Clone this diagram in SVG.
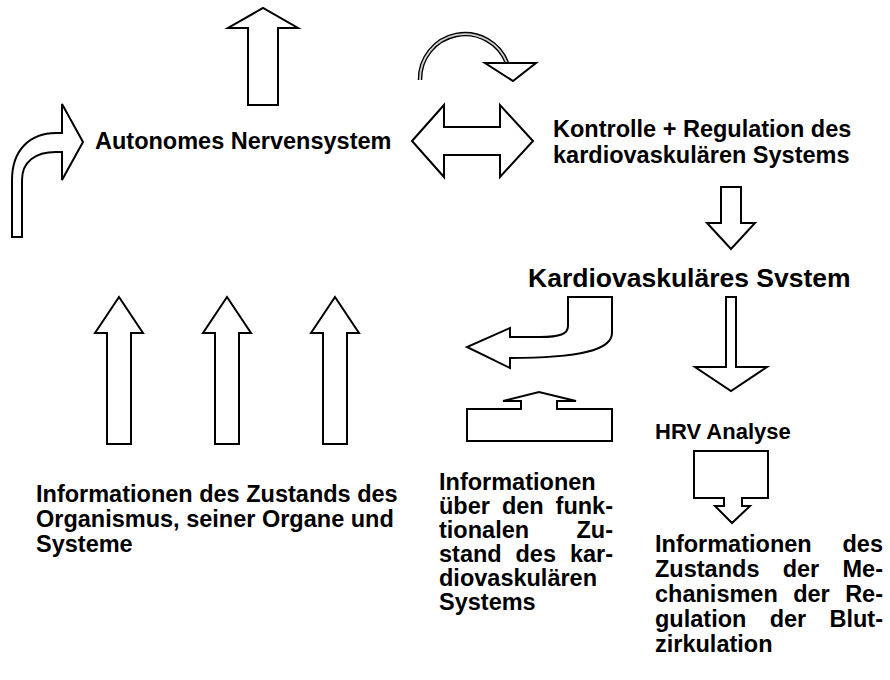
<svg xmlns="http://www.w3.org/2000/svg" width="890" height="680" viewBox="0 0 890 680">
<style>
.s{fill:#fff;stroke:#000;stroke-width:2;stroke-linejoin:miter}
text{font-family:"Liberation Sans",Arial,sans-serif;font-weight:bold;fill:#000;font-size:23.5px}
.big{font-size:26.5px}
.hrv{font-size:22px}
.e{text-anchor:end}
</style>
<rect width="890" height="680" fill="#fff"/>
<g id="connectors">
<path id="up-top" class="s" d="M248,105 L248,28 L228,28 L263,8 L298,28 L278,28 L278,105 Z"/>
<path id="bent-left" class="s" d="M12,237 L12,180 C12,150 30,133 56,133 L62,133 L62,104 L83,142 L62,180 L62,152 L56,152 C35,152 22,162 22,180 L22,237 Z"/>
<g id="curved-top">
<path d="M420,80 A45,45 0 0 1 507,63" fill="none" stroke="#000" stroke-width="4.5"/>
<path d="M420,80 A45,45 0 0 1 507,63" fill="none" stroke="#d0d0d0" stroke-width="1.8"/>
<path class="s" d="M485,63 L536,63 L513,81 Z"/>
</g>
<path id="double" class="s" d="M412,141 L444,105 L444,127 L500,127 L500,105 L533,141 L500,177 L500,155 L444,155 L444,177 Z"/>
<path id="down1" class="s" d="M721,187 L741,187 L741,223 L755,223 L731,249 L707,223 L721,223 Z"/>
<path id="down2" class="s" d="M726,297 L736,297 L736,367 L767,367 L731,391 L695,367 L726,367 Z"/>
<path id="uturn" class="s" d="M568,297 L612,297 L612,333 C612,350 580,358 510,358 L510,368 L467,347 L510,328 L510,337 L540,337 C560,337 568,334 568,326 Z"/>
<path id="box-up" class="s" d="M467,409 L521,409 L521,401 L503,401 L539,392 L576,401 L557,401 L557,409 L612,409 L612,441 L467,441 Z"/>
<path id="up1" class="s" d="M107,444 L107,333 L95,333 L119,297 L143,333 L131,333 L131,444 Z"/>
<path id="up2" class="s" d="M215,444 L215,333 L203,333 L227,297 L251,333 L239,333 L239,444 Z"/>
<path id="up3" class="s" d="M323,444 L323,333 L311,333 L335,297 L359,333 L347,333 L347,444 Z"/>
<path id="hrv-arrow" class="s" d="M694,451 L768,451 L768,498 L742,498 L742,506 L750,506 L732,523 L715,506 L724,506 L724,498 L694,498 Z"/>
</g>
<g id="ans"><text x="95" y="149">Autonomes Nervensystem</text></g>
<g id="kontrolle"><text x="553" y="137">Kontrolle + Regulation des</text><text x="553" y="163">kardiovaskulären Systems</text></g>
<g id="kvs"><text class="big" x="528" y="287">Kardiovaskuläres Svstem</text></g>
<g id="hrv"><text class="hrv" x="655" y="439">HRV Analyse</text></g>
<g id="info-organismus">
<text x="36" y="502">Informationen des Zustands des</text>
<text x="36" y="527">Organismus, seiner Organe und</text>
<text x="36" y="552">Systeme</text>
</g>
<g id="info-kardio">
<text x="439" y="490">Informationen</text>
<text x="439" y="514">über</text><text x="501.9" y="514">den</text><text class="e" x="613" y="514">funk-</text>
<text x="439" y="538">tionalen</text><text class="e" x="613" y="538">Zu-</text>
<text x="439" y="562">stand</text><text x="515.5" y="562">des</text><text class="e" x="613" y="562">kar-</text>
<text x="439" y="586">diovaskulären</text>
<text x="439" y="610">Systems</text>
</g>
<g id="info-regulation">
<text x="655" y="552">Informationen</text><text class="e" x="883" y="552">des</text>
<text x="655" y="577">Zustands</text><text x="782.7" y="577">der</text><text class="e" x="883" y="577">Me-</text>
<text x="655" y="602">chanismen</text><text x="793.2" y="602">der</text><text class="e" x="883" y="602">Re-</text>
<text x="655" y="627">gulation</text><text x="769.7" y="627">der</text><text class="e" x="883" y="627">Blut-</text>
<text x="655" y="652">zirkulation</text>
</g>
</svg>
